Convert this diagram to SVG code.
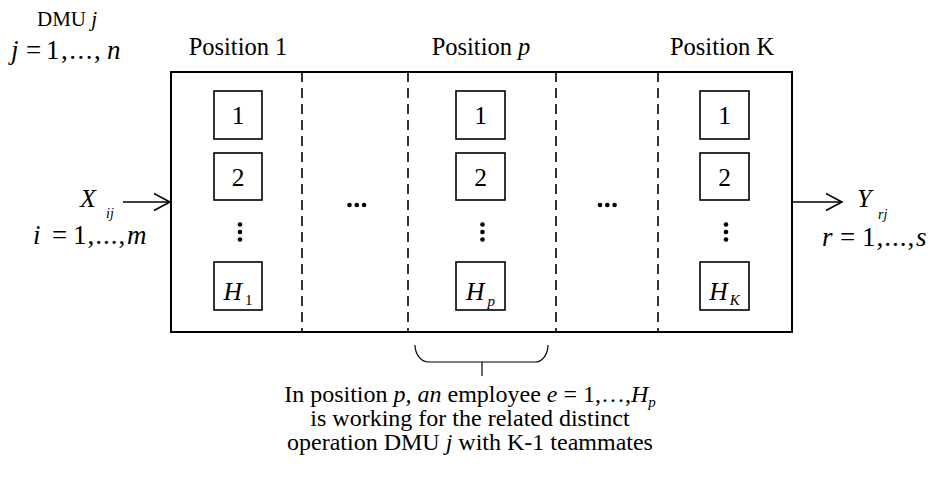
<svg xmlns="http://www.w3.org/2000/svg" width="932" height="479" viewBox="0 0 932 479">
<style>
.i{font-style:italic}
.box{fill:#fff;stroke:#000;stroke-width:1.6}
.dash{stroke:#000;stroke-width:1.6;stroke-dasharray:10 6;fill:none}
.ln{stroke:#000;stroke-width:2;fill:none}
.thin{stroke:#000;stroke-width:1.5;fill:none}
.num{font-size:25.5px;text-anchor:middle}
.lbl{font-size:24.5px;text-anchor:middle}
</style>
<rect width="932" height="479" fill="#fff"/>
<g font-family="Liberation Serif, Times New Roman, DejaVu Serif, serif" fill="#000">
<g id="frame">
<rect x="171" y="72" width="621" height="260" class="ln"/>
<line x1="302" y1="72" x2="302" y2="332" class="dash"/>
<line x1="408" y1="72" x2="408" y2="332" class="dash"/>
<line x1="556" y1="72" x2="556" y2="332" class="dash"/>
<line x1="658" y1="72" x2="658" y2="332" class="dash"/>
</g>
<g id="labels-top">
<text class="lbl" x="238" y="55">Position 1</text>
<text class="lbl" x="481" y="55">Position <tspan class="i">p</tspan></text>
<text class="lbl" x="722" y="55">Position K</text>
<text x="37" y="26" font-size="21">DMU <tspan class="i">j</tspan></text>
<text y="59" font-size="27"><tspan x="11" class="i">j</tspan><tspan x="26">=</tspan><tspan x="46" letter-spacing="1.5">1,...,</tspan><tspan x="107" class="i">n</tspan></text>
</g>
<g id="pos1">
<rect x="214" y="91" width="48" height="48" class="box"/>
<text class="num" x="238" y="124">1</text>
<rect x="214" y="153" width="48" height="47" class="box"/>
<text class="num" x="238" y="186">2</text>
<circle cx="240" cy="224.5" r="2.3"/><circle cx="240" cy="232" r="2.3"/><circle cx="240" cy="239.5" r="2.3"/>
<rect x="214" y="262" width="48" height="48" class="box"/>
<text class="num" x="238" y="300"><tspan class="i">H</tspan><tspan font-size="15" dx="3" dy="5">1</tspan></text>
</g>
<g id="pos2">
<circle cx="349.5" cy="205" r="2.3"/><circle cx="356.8" cy="205" r="2.3"/><circle cx="364.1" cy="205" r="2.3"/>
</g>
<g id="posp">
<rect x="456" y="91" width="49" height="48" class="box"/>
<text class="num" x="480.5" y="124">1</text>
<rect x="456" y="153" width="49" height="47" class="box"/>
<text class="num" x="480.5" y="186">2</text>
<circle cx="482.5" cy="224.5" r="2.3"/><circle cx="482.5" cy="232" r="2.3"/><circle cx="482.5" cy="239.5" r="2.3"/>
<rect x="456" y="262" width="49" height="48" class="box"/>
<text class="num" x="480.5" y="300"><tspan class="i">H</tspan><tspan class="i" font-size="15" dx="3" dy="6">p</tspan></text>
</g>
<g id="pos4">
<circle cx="600" cy="205" r="2.3"/><circle cx="607.3" cy="205" r="2.3"/><circle cx="614.6" cy="205" r="2.3"/>
</g>
<g id="posK">
<rect x="700" y="91" width="49" height="48" class="box"/>
<text class="num" x="724.5" y="124">1</text>
<rect x="700" y="153" width="49" height="47" class="box"/>
<text class="num" x="724.5" y="186">2</text>
<circle cx="726" cy="224.5" r="2.3"/><circle cx="726" cy="232" r="2.3"/><circle cx="726" cy="239.5" r="2.3"/>
<rect x="700" y="262" width="49" height="48" class="box"/>
<text class="num" x="724.5" y="300"><tspan class="i">H</tspan><tspan class="i" font-size="15" dx="2" dy="5">K</tspan></text>
</g>
<g id="input">
<text y="207" font-size="26"><tspan x="80" class="i">X</tspan><tspan x="106" y="218" font-size="14" class="i">ij</tspan></text>
<text y="244" font-size="27"><tspan x="33" class="i">i</tspan><tspan x="52">=</tspan><tspan x="73" letter-spacing="1">1,...,</tspan><tspan x="127" class="i">m</tspan></text>
</g>
<g id="output">
<text y="207" font-size="26"><tspan x="857" class="i">Y</tspan><tspan x="878" y="219" font-size="14" class="i">rj</tspan></text>
<text y="246" font-size="27"><tspan x="822" class="i">r</tspan><tspan x="840">=</tspan><tspan x="862" letter-spacing="1">1,...,</tspan><tspan x="916" class="i">s</tspan></text>
</g>
<g id="connectors">
<line x1="123" y1="202" x2="170" y2="202" class="thin"/>
<polyline points="154,193.5 170,202 154,210.5" class="thin"/>
<line x1="793" y1="202" x2="842" y2="202" class="thin"/>
<polyline points="826,193.5 842,202 826,210.5" class="thin"/>
<path d="M415,345 A14,17 0 0 0 429,362 L535,362 A13,17 0 0 0 548,345" fill="none" stroke="#000" stroke-width="1.2"/>
<line x1="482" y1="362" x2="482" y2="376" stroke="#000" stroke-width="1.2"/>
</g>
<g id="note">
<text font-size="24" text-anchor="middle"><tspan x="470" y="402">In position <tspan class="i">p, an</tspan> employee <tspan class="i">e</tspan> = 1,…,<tspan class="i">H</tspan><tspan class="i" font-size="15" dy="5">p</tspan></tspan><tspan x="470" y="426">is working for the related distinct</tspan><tspan x="470" y="450">operation DMU <tspan class="i">j</tspan> with K-1 teammates</tspan></text>
</g>
</g>
</svg>
